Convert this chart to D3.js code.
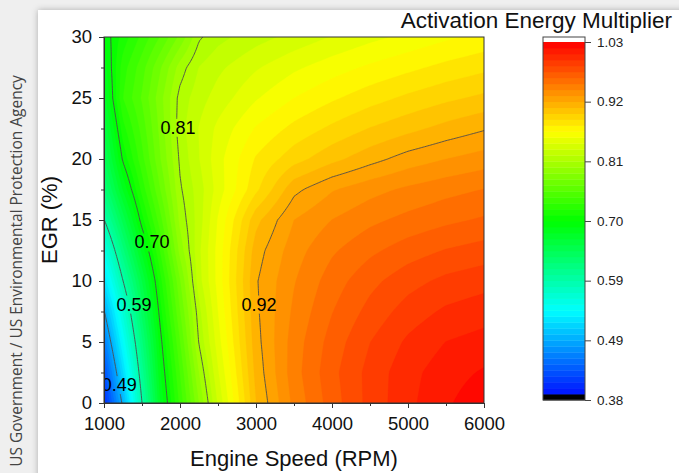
<!DOCTYPE html>
<html><head><meta charset="utf-8">
<script src="https://cdn.jsdelivr.net/npm/d3@7"></script>
<style>
html,body{margin:0;padding:0;background:#efefef;}
svg{display:block;}
</style></head><body>
<svg id="chart" width="679" height="473"></svg>
<script>
// ---------------- DATA ----------------
const rpmValues = [1000,1250,1500,1750,2000,2250,2500,3000,3500,4000,4500,5000,5500,6000];
const egrValues = [0,2.5,5,7.5,10,12.5,15,17.5,20,22.5,25,27.5,30];
// activation energy multiplier, one row per EGR value, columns follow rpmValues
const egr00_0 = [0.405,0.491,0.594,0.684,0.738,0.789,0.834,0.908,0.944,0.968,0.988,1.003,1.015,1.024];
const egr02_5 = [0.425,0.517,0.609,0.692,0.746,0.800,0.842,0.912,0.947,0.970,0.988,1.002,1.012,1.018];
const egr05_0 = [0.455,0.541,0.624,0.700,0.756,0.812,0.849,0.915,0.946,0.967,0.984,0.997,1.006,1.010];
const egr07_5 = [0.484,0.565,0.641,0.711,0.767,0.818,0.854,0.917,0.943,0.962,0.977,0.989,0.997,1.001];
const egr10_0 = [0.520,0.594,0.659,0.722,0.777,0.828,0.858,0.918,0.940,0.957,0.970,0.980,0.987,0.991];
const egr12_5 = [0.555,0.623,0.684,0.738,0.793,0.830,0.858,0.914,0.936,0.950,0.960,0.968,0.974,0.978];
const egr15_0 = [0.593,0.652,0.709,0.754,0.803,0.827,0.855,0.905,0.930,0.941,0.949,0.955,0.960,0.964];
const egr17_5 = [0.625,0.682,0.728,0.769,0.809,0.827,0.848,0.884,0.916,0.929,0.937,0.943,0.948,0.952];
const egr20_0 = [0.645,0.705,0.742,0.779,0.813,0.832,0.850,0.877,0.893,0.905,0.915,0.924,0.930,0.935];
const egr22_5 = [0.660,0.720,0.750,0.783,0.817,0.833,0.846,0.866,0.879,0.889,0.898,0.905,0.912,0.918];
const egr25_0 = [0.675,0.735,0.758,0.786,0.815,0.828,0.837,0.853,0.865,0.874,0.882,0.889,0.895,0.900];
const egr27_5 = [0.685,0.730,0.752,0.778,0.805,0.822,0.830,0.842,0.852,0.860,0.867,0.873,0.879,0.884];
const egr30_0 = [0.694,0.718,0.738,0.758,0.781,0.809,0.818,0.828,0.836,0.844,0.851,0.857,0.863,0.868];
const zRows = [egr00_0,egr02_5,egr05_0,egr07_5,egr10_0,egr12_5,egr15_0,egr17_5,egr20_0,egr22_5,egr25_0,egr27_5,egr30_0];

const xTickValues = [1000,2000,3000,4000,5000,6000];
const xMinorValues = [1500,2500,3500,4500,5500];
const yTickValues = [0,5,10,15,20,25,30];
const yMinorValues = [2.5,7.5,12.5,17.5,22.5,27.5];
const zMin = 0.3775, zMax = 1.0275, nLevels = 60;
const cbTickLabels = ['0.38','0.49','0.59','0.70','0.81','0.92','1.03'];
const contourLabels = [
  {text:'0.81', rpm:1974, egr:22.6},
  {text:'0.70', rpm:1632, egr:13.2},
  {text:'0.59', rpm:1395, egr:8.1},
  {text:'0.92', rpm:3040, egr:8.1},
  {text:'0.49', rpm:1200, egr:1.5}
];
const titleText = 'Activation Energy Multiplier';
const xTitle = 'Engine Speed (RPM)';
const yTitle = 'EGR (%)';
const creditText = 'US Government / US Environmental Protection Agency';

// ---------------- DRAW ----------------
const W = 679, H = 473;
const FONT = '"Liberation Sans", Arial, sans-serif';
const svg = d3.select('#chart');
const defs = svg.append('defs');

svg.append('rect').attr('width', W).attr('height', H).attr('fill', '#efefef');
const sh = defs.append('filter').attr('id','shadow').attr('x','-10%').attr('y','-10%').attr('width','120%').attr('height','120%');
sh.append('feDropShadow').attr('dx',0).attr('dy',0).attr('stdDeviation',3)
  .attr('flood-color','#000').attr('flood-opacity',0.28);
svg.append('rect').attr('x', 38).attr('y', 10).attr('width', W).attr('height', H)
  .attr('fill', '#fff').attr('filter', 'url(#shadow)');

// credit text
const credit = svg.append('text')
  .attr('transform', 'translate(22,271) rotate(-90)')
  .attr('text-anchor', 'middle')
  .attr('font-family', '"Open Sans", "Noto Sans", sans-serif')
  .attr('font-size', 14).attr('fill', '#444')
  .text(creditText);
const cl = credit.node().getComputedTextLength();
credit.attr('font-size', 14 * 392 / cl);

const x = d3.scaleLinear().domain([1000, 6000]).range([104, 484]);
const y = d3.scaleLinear().domain([0, 30]).range([403, 37]);

// fine raster for contouring (bilinear inside the measured grid)
function sampleZ(r, e) {
  r = Math.max(rpmValues[0], Math.min(rpmValues[rpmValues.length-1], r));
  e = Math.max(egrValues[0], Math.min(egrValues[egrValues.length-1], e));
  let i = Math.min(Math.max(d3.bisectRight(rpmValues, r) - 1, 0), rpmValues.length - 2);
  let j = Math.min(Math.max(d3.bisectRight(egrValues, e) - 1, 0), egrValues.length - 2);
  const tx = (r - rpmValues[i]) / (rpmValues[i+1] - rpmValues[i]);
  const ty = (e - egrValues[j]) / (egrValues[j+1] - egrValues[j]);
  return (1-tx)*(1-ty)*zRows[j][i] + tx*(1-ty)*zRows[j][i+1] + (1-tx)*ty*zRows[j+1][i] + tx*ty*zRows[j+1][i+1];
}
const dr = 20, de = 0.2, r0 = 940, e0 = -0.6;
const nx = Math.round((6060 - r0) / dr) + 1, ny = Math.round((30.6 - e0) / de) + 1;
const grid = new Array(nx * ny);
for (let j = 0; j < ny; j++) for (let i = 0; i < nx; i++) grid[j*nx + i] = sampleZ(r0 + i*dr, e0 + j*de);

const proj = d3.geoTransform({ point: function(cx, cy) {
  this.stream.point(x(r0 + (cx - 0.5) * dr), y(e0 + (cy - 0.5) * de));
}});
const path = d3.geoPath(proj);

const step = (zMax - zMin) / nLevels;
const levels = d3.range(nLevels).map(k => zMin + k * step);
const rainbow = d3.scaleLinear().domain([0, 0.25, 0.5, 0.75, 1])
  .range(['#0000ff', '#00ffff', '#00ff00', '#ffff00', '#ff0000']).clamp(true);
const bandColor = k => rainbow((k + 0.5) / nLevels);

defs.append('clipPath').attr('id', 'plotClip').append('rect')
  .attr('x', x(1000)).attr('y', y(30)).attr('width', x(6000) - x(1000)).attr('height', y(0) - y(30));

const plot = svg.append('g').attr('clip-path', 'url(#plotClip)');
const bands = d3.contours().size([nx, ny]).thresholds(levels)(grid);
plot.selectAll('path.band').data(bands).join('path')
  .attr('class', 'band')
  .attr('d', path)
  .attr('fill', d => bandColor(Math.round((d.value - zMin) / step)))
  .attr('stroke', d => bandColor(Math.round((d.value - zMin) / step)))
  .attr('stroke-width', 0.3);

// contour lines with label gaps
const lineLevels = d3.range(1, 6).map(k => zMin + k * (zMax - zMin) / 6);
const lines = d3.contours().size([nx, ny]).thresholds(lineLevels)(grid);
const mask = defs.append('mask').attr('id', 'labelMask').attr('maskUnits', 'userSpaceOnUse')
  .attr('x', 0).attr('y', 0).attr('width', W).attr('height', H);
mask.append('rect').attr('width', W).attr('height', H).attr('fill', '#fff');
const lineG = plot.append('g').attr('mask', 'url(#labelMask)');
lineG.selectAll('path').data(lines).join('path')
  .attr('d', path).attr('fill', 'none')
  .attr('stroke', '#4d4d4d').attr('stroke-width', 0.9);

const labG = plot.append('g');
contourLabels.forEach(L => {
  const t = labG.append('text')
    .attr('x', x(L.rpm)).attr('y', y(L.egr))
    .attr('text-anchor', 'middle').attr('dy', '0.36em')
    .attr('font-family', FONT).attr('font-size', 18).attr('fill', '#000')
    .text(L.text);
  const b = t.node().getBBox();
  mask.append('rect').attr('x', b.x - 1).attr('y', b.y + 1).attr('width', b.width + 2).attr('height', b.height - 2).attr('fill', '#000');
});

// frame
svg.append('rect').attr('x', x(1000)).attr('y', y(30))
  .attr('width', x(6000) - x(1000)).attr('height', y(0) - y(30))
  .attr('fill', 'none').attr('stroke', '#333').attr('stroke-width', 1);

// axes
function styleAxis(g) {
  g.select('.domain').attr('stroke', '#333');
  g.selectAll('.tick line').attr('stroke', '#333');
  g.selectAll('.tick text').attr('fill', '#111').attr('font-family', FONT).attr('font-size', 18.5);
}
const xAxis = svg.append('g').attr('transform', `translate(0,${y(0)})`)
  .call(d3.axisBottom(x).tickValues(xTickValues).tickSize(5).tickPadding(9).tickSizeOuter(0).tickFormat(d3.format('d')));
styleAxis(xAxis);
svg.append('g').attr('transform', `translate(0,${y(0)})`)
  .call(d3.axisBottom(x).tickValues(xMinorValues).tickSize(3).tickFormat('').tickSizeOuter(0))
  .call(g => { g.select('.domain').remove(); g.selectAll('line').attr('stroke', '#333'); });

const yAxis = svg.append('g').attr('transform', `translate(${x(1000)},0)`)
  .call(d3.axisLeft(y).tickValues(yTickValues).tickSize(5).tickPadding(7).tickSizeOuter(0).tickFormat(d3.format('d')));
styleAxis(yAxis);
svg.append('g').attr('transform', `translate(${x(1000)},0)`)
  .call(d3.axisLeft(y).tickValues(yMinorValues).tickSize(3).tickFormat('').tickSizeOuter(0))
  .call(g => { g.select('.domain').remove(); g.selectAll('line').attr('stroke', '#333'); });

// axis titles
svg.append('text').attr('x', (x(1000) + x(6000)) / 2).attr('y', 466)
  .attr('text-anchor', 'middle').attr('font-family', FONT).attr('font-size', 22).attr('fill', '#111')
  .text(xTitle);
svg.append('text').attr('transform', `translate(57,${(y(0) + y(30)) / 2}) rotate(-90)`)
  .attr('text-anchor', 'middle').attr('font-family', FONT).attr('font-size', 22).attr('fill', '#111')
  .text(yTitle);

// title
svg.append('text').attr('x', 672).attr('y', 28).attr('text-anchor', 'end')
  .attr('font-family', FONT).attr('font-size', 22.5).attr('fill', '#111').text(titleText);

// colour bar
const cbX = 543, cbW = 42;
const cb = d3.scaleLinear().domain([zMin, zMax]).range([400, 42]);
const cbG = svg.append('g');
cbG.append('rect').attr('x', cbX).attr('y', 37).attr('width', cbW).attr('height', cb(zMax) - 37).attr('fill', '#fff');
cbG.selectAll('rect.lvl').data(levels).join('rect').attr('class', 'lvl')
  .attr('x', cbX).attr('width', cbW)
  .attr('y', d => cb(d + step))
  .attr('height', d => cb(d) - cb(d + step) + 0.4)
  .attr('fill', (d, k) => k === 0 ? '#000' : bandColor(k));
cbG.append('rect').attr('x', cbX).attr('y', 37).attr('width', cbW).attr('height', 400 - 37)
  .attr('fill', 'none').attr('stroke', '#444').attr('stroke-width', 1);
const cbTicks = d3.range(7).map(k => zMin + k * (zMax - zMin) / 6);
const cbAxis = svg.append('g').attr('transform', `translate(${cbX + cbW},0)`)
  .call(d3.axisRight(cb).tickValues(cbTicks).tickSize(6).tickPadding(6).tickFormat((d, i) => cbTickLabels[i]));
cbAxis.select('.domain').remove();
cbAxis.selectAll('.tick line').attr('stroke', '#444');
cbAxis.selectAll('.tick text').attr('fill', '#222').attr('font-family', FONT).attr('font-size', 13.5);
</script>
</body></html>
